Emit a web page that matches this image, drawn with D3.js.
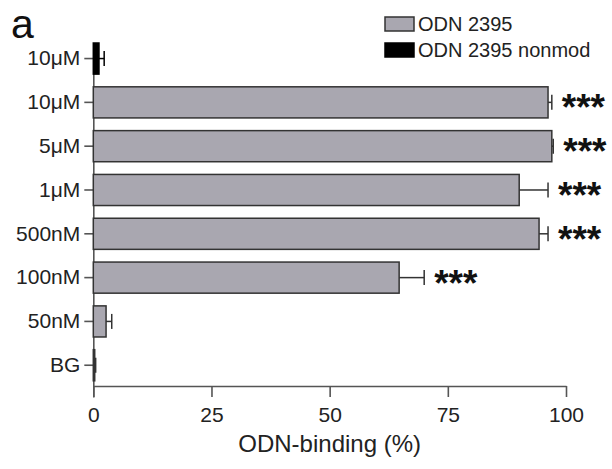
<!DOCTYPE html>
<html>
<head>
<meta charset="utf-8">
<script src="https://cdn.jsdelivr.net/npm/d3@7"></script>
<style>
  body { margin: 0; background: #fff; }
  text { font-family: "Liberation Sans", Arial, sans-serif; }
</style>
</head>
<body>
<div id="chart"></div>
<script>
// data
var rowLabels = ['10\u03bcM', '10\u03bcM', '5\u03bcM', '1\u03bcM', '500nM', '100nM', '50nM', 'BG'];
var rowSeries = ['nonmod', 'mod', 'mod', 'mod', 'mod', 'mod', 'mod', 'mod'];
var binding = [1.2, 96.2, 97.0, 90.1, 94.3, 64.7, 2.7, 0.3];
var errors = [1.1, 0.8, 0.3, 6.1, 1.9, 5.3, 1.2, 0.2];
var stars = ['', '***', '***', '***', '***', '***', '', ''];
var xTicks = [0, 25, 50, 75, 100];
var legendNames = ['ODN 2395', 'ODN 2395 nonmod'];

var svgWidth = 612;
var svgHeight = 469;
var barColor = {mod: '#a9a7b0', nonmod: '#000000'};
var inkColor = '#333';

var rows = rowLabels.map((d, i) => ({
    i: i,
    label: d,
    series: rowSeries[i],
    value: binding[i],
    err: errors[i],
    star: stars[i]
}));

var xScale = d3.scaleLinear()
    .domain([0, 100])
    .range([93.3, 566]);

var yScale = d3.scaleBand()
    .domain(rows.map(d => d.i))
    .range([43, 397])
    .paddingInner(0.29)
    .paddingOuter(0.185)
    .align(0);

var svg = d3.select('#chart').append('svg')
    .attr('width', svgWidth)
    .attr('height', svgHeight);

// x axis
var xAxisG = svg.append('g')
    .attr('transform', 'translate(0,386)')
    .call(d3.axisBottom(xScale).tickValues(xTicks).tickSize(11).tickSizeOuter(0).tickPadding(10));

// y axis
var yAxisG = svg.append('g')
    .attr('transform', `translate(${xScale(0)},0)`)
    .call(d3.axisLeft(yScale).tickFormat(i => rowLabels[i]).tickSize(9).tickSizeOuter(0).tickPadding(4));

[xAxisG, yAxisG].forEach(g => {
    g.selectAll('path, line').attr('stroke', '#555').attr('stroke-width', 1.6);
    g.selectAll('text').attr('fill', '#222').style('font-size', '21px');
});

// bars
svg.selectAll('.bar')
    .data(rows)
    .enter()
    .append('rect')
    .attr('class', 'bar')
    .attr('x', xScale(0))
    .attr('y', d => yScale(d.i))
    .attr('width', d => xScale(d.value) - xScale(0))
    .attr('height', yScale.bandwidth())
    .attr('fill', d => barColor[d.series])
    .attr('stroke', d => d.series == 'nonmod' ? '#000' : inkColor)
    .attr('stroke-width', 1.5);

// error bars (upper side only)
var errG = svg.selectAll('.err')
    .data(rows)
    .enter()
    .append('g')
    .attr('class', 'err')
    .attr('stroke', d => d.series == 'nonmod' ? '#000' : inkColor)
    .attr('stroke-width', 1.5);

errG.append('line')
    .attr('x1', d => xScale(d.value))
    .attr('x2', d => xScale(d.value + d.err))
    .attr('y1', d => yScale(d.i) + yScale.bandwidth() / 2)
    .attr('y2', d => yScale(d.i) + yScale.bandwidth() / 2);

errG.append('line')
    .attr('x1', d => xScale(d.value + d.err))
    .attr('x2', d => xScale(d.value + d.err))
    .attr('y1', d => yScale(d.i) + yScale.bandwidth() / 2 - 7.5)
    .attr('y2', d => yScale(d.i) + yScale.bandwidth() / 2 + 7.5);

// significance stars
svg.selectAll('.star')
    .data(rows.filter(d => d.star != ''))
    .enter()
    .append('text')
    .attr('class', 'star')
    .attr('x', d => xScale(d.value + d.err) + 10)
    .attr('y', d => yScale(d.i) + yScale.bandwidth() / 2 + 18)
    .attr('fill', '#111')
    .style('font-size', '37px')
    .style('font-weight', 'bold')
    .text(d => d.star);

// axis title
svg.append('text')
    .attr('x', (xScale(0) + xScale(100)) / 2)
    .attr('y', 452)
    .attr('text-anchor', 'middle')
    .attr('fill', '#222')
    .style('font-size', '24px')
    .text('ODN-binding (%)');

// panel letter
svg.append('text')
    .attr('x', 11)
    .attr('y', 38)
    .attr('fill', '#111')
    .style('font-size', '41px')
    .text('a');

// legend
var legendG = svg.selectAll('.legend')
    .data(legendNames)
    .enter()
    .append('g')
    .attr('class', 'legend')
    .attr('transform', (d, i) => `translate(385,${17 + i * 26})`);

legendG.append('rect')
    .attr('width', 29)
    .attr('height', 14)
    .attr('fill', (d, i) => i == 0 ? barColor.mod : barColor.nonmod)
    .attr('stroke', (d, i) => i == 0 ? inkColor : '#000')
    .attr('stroke-width', 1.5);

legendG.append('text')
    .attr('x', 33)
    .attr('y', 14)
    .attr('fill', '#222')
    .style('font-size', '20px')
    .text(d => d);
</script>
</body>
</html>
